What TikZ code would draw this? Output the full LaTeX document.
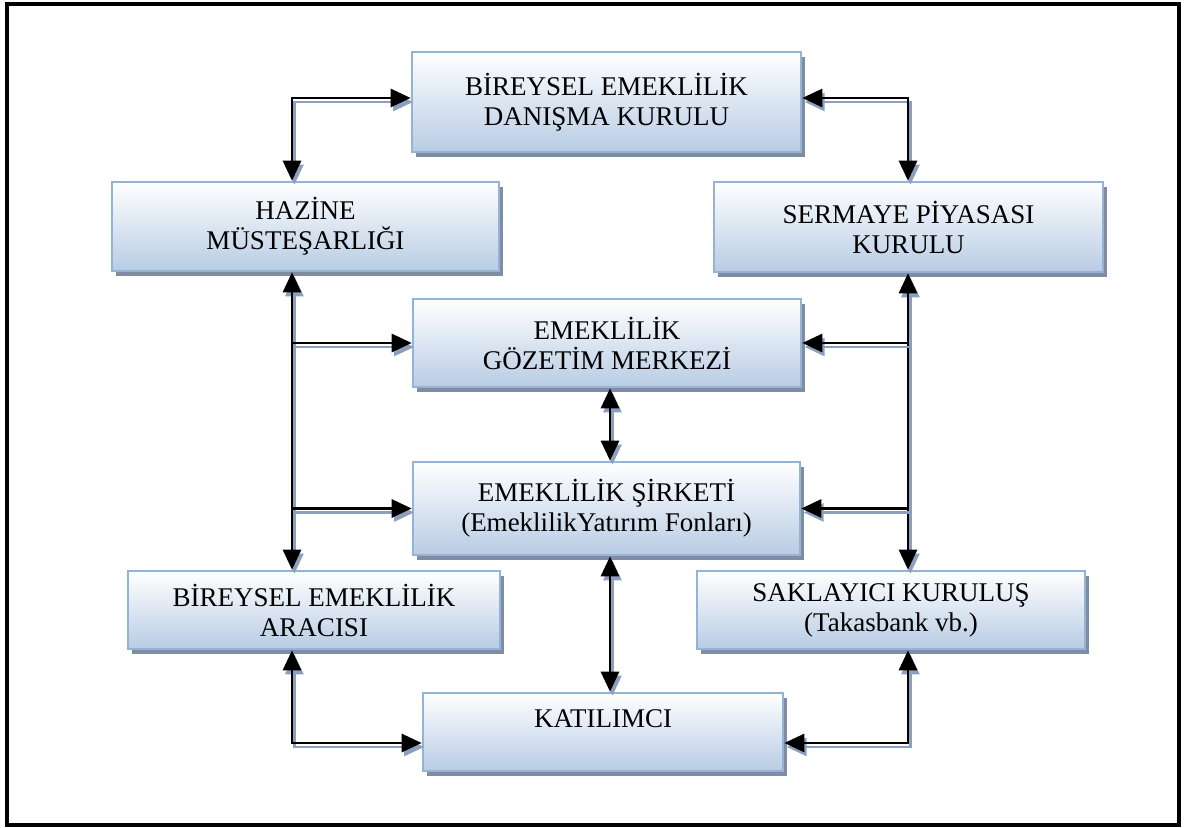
\documentclass[tikz,border=0pt]{standalone}
\usepackage{fontspec}
\setmainfont{Liberation Serif}
\usetikzlibrary{arrows.meta,shadows}
\definecolor{boxline}{RGB}{149,179,215}
\definecolor{boxfill}{RGB}{184,204,228}
\definecolor{boxshade}{RGB}{128,140,162}
\definecolor{arrowshade}{RGB}{140,160,190}
\tikzset{bigtip/.tip={Triangle[length=10pt,width=9pt]}}

\begin{document}
\begin{tikzpicture}[x=0.5pt,y=-0.5pt]
	\useasboundingbox (0,0) rectangle (1184,828);
	\draw[line width=2pt] (7,4) rectangle (1179,825);

	\begin{scope}[every node/.style={rectangle,draw=boxline,line width=1.3pt,
	              top color=white,bottom color=boxfill,inner sep=0pt,align=center,
	              font=\fontsize{13.5}{15}\selectfont,
	              drop shadow={shadow xshift=2pt,shadow yshift=-2.5pt,fill=boxshade,opacity=1}}]
	    \node[minimum width=194.5pt,minimum height=50pt] (bedk) at (606.5,102) {BİREYSEL EMEKLİLİK\\DANIŞMA KURULU};
	    \node[minimum width=193.5pt,minimum height=44.5pt] (hazine) at (305.5,226.5) {HAZİNE\\MÜSTEŞARLIĞI};
	    \node[minimum width=194.5pt,minimum height=45pt] (spk) at (908.5,227) {SERMAYE PİYASASI\\KURULU};
	    \node[minimum width=194pt,minimum height=44pt] (egm) at (607,343) {EMEKLİLİK\\GÖZETİM MERKEZİ};
	    \node[minimum width=193.5pt,minimum height=46.5pt] (es) at (606.5,508.5) {EMEKLİLİK ŞİRKETİ\\(EmeklilikYatırım Fonları)};
	    \node[minimum width=186pt,minimum height=39pt] (bea) at (314,610) {BİREYSEL EMEKLİLİK\\ARACISI};
	    \node[minimum width=194pt,minimum height=39pt] (sk) at (891,610) {SAKLAYICI KURULUŞ\\(Takasbank vb.)};
	    \node[minimum width=180pt,minimum height=39pt,text depth=13pt] (kat) at (603,732) {KATILIMCI};
	\end{scope}

	% vertical rails
	\coordinate (lft) at (292,0);
	\coordinate (rgt) at (908,0);
	\coordinate (mid) at (610,0);

	\begin{scope}[line width=1.4pt,
	              arrowline/.style={#1,preaction={draw=arrowshade,#1,
	                  transform canvas={xshift=1.2pt,yshift=-2pt}}}]
	    \draw[arrowline=bigtip-bigtip] ([yshift=2pt]bedk.west) -| (lft |- hazine.north);
	    \draw[arrowline=bigtip-bigtip] ([yshift=2pt]bedk.east) -| (rgt |- spk.north);
	    \draw[arrowline=bigtip-bigtip] (lft |- hazine.south) -- (lft |- bea.north);
	    \draw[arrowline=-bigtip] (lft |- egm.west) -- (egm.west);
	    \draw[arrowline=-bigtip] (lft |- es.west) -- (es.west);
	    \draw[arrowline=bigtip-bigtip] (rgt |- spk.south) -- (rgt |- sk.north);
	    \draw[arrowline=-bigtip] (rgt |- egm.east) -- (egm.east);
	    \draw[arrowline=-bigtip] (rgt |- es.east) -- (es.east);
	    \draw[arrowline=bigtip-bigtip] (mid |- egm.south) -- (mid |- es.north);
	    \draw[arrowline=bigtip-bigtip] (mid |- es.south) -- (mid |- kat.north);
	    \draw[arrowline=bigtip-bigtip] (lft |- bea.south) |- ([yshift=-5.5pt]kat.west);
	    \draw[arrowline=bigtip-bigtip] (rgt |- sk.south) |- ([yshift=-5.5pt]kat.east);
	\end{scope}
\end{tikzpicture}
\end{document}
